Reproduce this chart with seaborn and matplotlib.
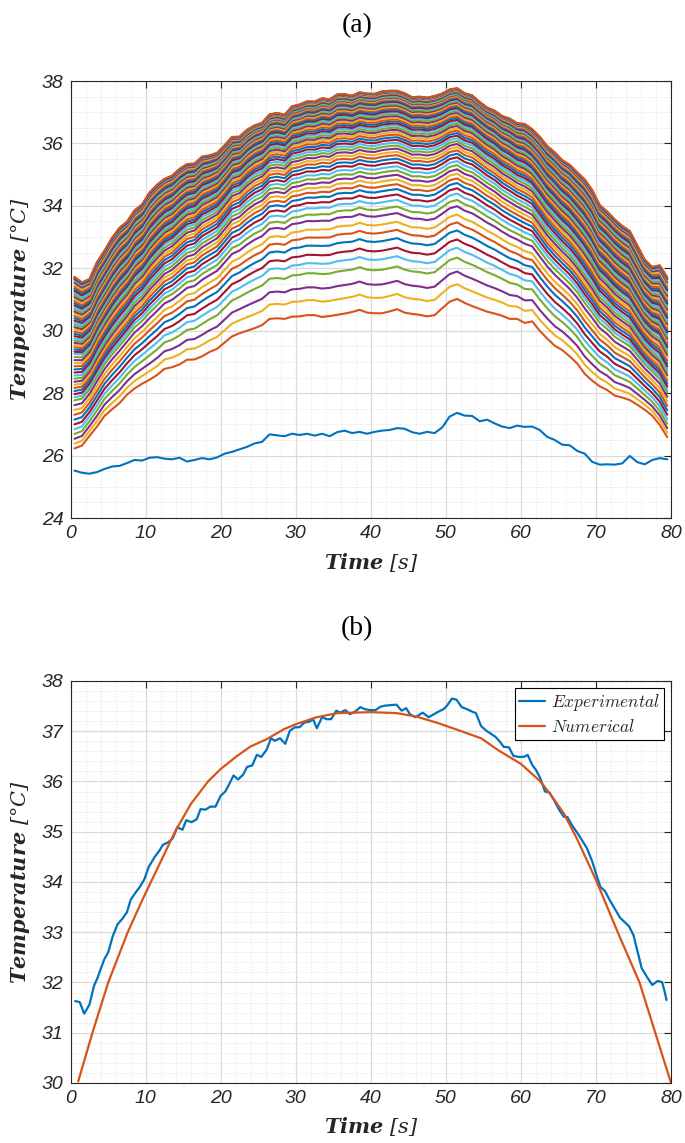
import numpy as np
import pandas as pd
import matplotlib
matplotlib.use("Agg")
import matplotlib.pyplot as plt
import seaborn as sns
from matplotlib.ticker import MultipleLocator
from matplotlib.font_manager import FontProperties
from matplotlib.mathtext import MathTextParser

# ---------------- data: panel (a) ----------------
time_a = np.arange(0.5, 80.0, 1.0)

top_a = [31.73, 31.55, 31.66, 32.20, 32.57, 32.98, 33.30, 33.50, 33.86, 34.05,
         34.43, 34.68, 34.87, 34.97, 35.19, 35.34, 35.36, 35.58, 35.62, 35.70,
         35.94, 36.21, 36.22, 36.44, 36.58, 36.66, 36.93, 36.98, 36.92, 37.19,
         37.25, 37.35, 37.34, 37.45, 37.41, 37.57, 37.58, 37.53, 37.64, 37.60,
         37.59, 37.67, 37.69, 37.69, 37.61, 37.48, 37.50, 37.47, 37.52, 37.60,
         37.73, 37.77, 37.61, 37.54, 37.33, 37.15, 37.05, 36.88, 36.80, 36.65,
         36.63, 36.46, 36.22, 35.92, 35.72, 35.47, 35.32, 35.08, 34.85, 34.51,
         34.03, 33.82, 33.57, 33.36, 33.20, 32.74, 32.28, 32.05, 32.10, 31.72]

low_a = [26.23, 26.32, 26.63, 26.93, 27.27, 27.48, 27.68, 27.95, 28.15, 28.30,
         28.43, 28.58, 28.78, 28.83, 28.92, 29.07, 29.08, 29.18, 29.32, 29.42,
         29.62, 29.82, 29.92, 30.00, 30.08, 30.18, 30.38, 30.40, 30.38, 30.45,
         30.46, 30.50, 30.50, 30.44, 30.47, 30.51, 30.55, 30.60, 30.67, 30.58,
         30.56, 30.56, 30.62, 30.69, 30.58, 30.54, 30.51, 30.46, 30.50, 30.72,
         30.93, 31.02, 30.89, 30.79, 30.70, 30.61, 30.55, 30.48, 30.38, 30.38,
         30.25, 30.30, 30.00, 29.75, 29.52, 29.38, 29.18, 28.95, 28.62, 28.40,
         28.22, 28.10, 27.92, 27.86, 27.78, 27.63, 27.47, 27.28, 26.98, 26.59]

bottom_a = [25.52, 25.45, 25.42, 25.47, 25.57, 25.65, 25.67, 25.76, 25.86, 25.84,
            25.93, 25.95, 25.90, 25.88, 25.93, 25.81, 25.86, 25.92, 25.88, 25.94,
            26.06, 26.12, 26.20, 26.28, 26.39, 26.44, 26.68, 26.65, 26.62, 26.70,
            26.66, 26.70, 26.64, 26.70, 26.62, 26.75, 26.80, 26.72, 26.76, 26.70,
            26.76, 26.80, 26.82, 26.88, 26.86, 26.75, 26.70, 26.76, 26.72, 26.90,
            27.25, 27.37, 27.28, 27.27, 27.10, 27.15, 27.03, 26.93, 26.88, 26.96,
            26.92, 26.93, 26.82, 26.60, 26.50, 26.35, 26.33, 26.15, 26.06, 25.80,
            25.71, 25.72, 25.71, 25.75, 25.99, 25.79, 25.72, 25.86, 25.92, 25.88]

# relative position of each bundle line between lowest (0) and top (1) curve,
# read near the ends of the record (t~0 and t~80) and in the middle (t~25-55)
frac_edge = [0.000, 0.028, 0.056, 0.084, 0.112, 0.140, 0.168, 0.196, 0.224, 0.252, 0.280,
             0.298, 0.316, 0.334, 0.352, 0.370, 0.388, 0.406, 0.424, 0.442, 0.460,
             0.478, 0.496, 0.514, 0.532, 0.550,
             0.563, 0.576, 0.589, 0.602, 0.615, 0.628, 0.641, 0.654, 0.667, 0.680,
             0.693, 0.706, 0.719, 0.732, 0.745, 0.758, 0.771, 0.784, 0.797, 0.810,
             0.822, 0.834, 0.846, 0.858, 0.870, 0.882, 0.894, 0.906, 0.918, 0.930,
             0.942, 0.954, 0.966, 0.978, 0.984, 0.989, 0.994, 1.000]
frac_mid = [0.0, 0.07, 0.13, 0.196, 0.243, 0.282, 0.325, 0.363, 0.40, 0.44,
            0.47, 0.50, 0.525, 0.55, 0.572, 0.594, 0.615, 0.635, 0.654, 0.672,
            0.689, 0.705, 0.72, 0.735, 0.749, 0.762, 0.775, 0.787, 0.799, 0.81,
            0.821, 0.831, 0.841, 0.85, 0.859, 0.868, 0.876, 0.884, 0.892, 0.899,
            0.906, 0.913, 0.92, 0.926, 0.932, 0.938, 0.944, 0.949, 0.954, 0.959,
            0.964, 0.968, 0.972, 0.976, 0.98, 0.983, 0.986, 0.989, 0.992, 0.995,
            0.996, 0.998, 0.999, 1.0]
frac_anchor_time = [0.5, 25.0, 55.0, 79.5]

# ---------------- data: panel (b) ----------------
exp_time = [0.6, 1.2, 1.8, 2.5, 3.1, 3.6, 4.0, 4.5, 5.0, 5.6,
            6.25, 6.9, 7.5, 8.0, 8.7, 9.2, 9.8, 10.4, 11.2, 11.8,
            12.3, 13.0, 13.6, 14.2, 14.9, 15.4, 16.1, 16.8, 17.3, 18.0,
            18.6, 19.3, 20.0, 20.6, 21.1, 21.7, 22.3, 23.0, 23.5, 24.2,
            24.8, 25.4, 26.1, 26.7, 27.2, 27.9, 28.6, 29.2, 29.9, 30.5,
            31.1, 31.8, 32.3, 32.8, 33.5, 34.1, 34.7, 35.4, 35.9, 36.6,
            37.2, 37.9, 38.6, 39.2, 39.9, 40.6, 41.3, 41.9, 42.6, 43.4,
            44.1, 44.7, 45.2, 45.9, 46.4, 46.9, 47.7, 48.4, 49.0, 49.7,
            50.2, 50.8, 51.4, 52.1, 52.8, 53.5, 54.0, 54.7, 55.4, 56.0,
            56.6, 57.2, 57.7, 58.4, 59.0, 59.7, 60.4, 60.9, 61.5, 62.0,
            62.6, 63.2, 63.8, 64.4, 65.0, 65.7, 66.2, 66.8, 67.5, 68.1,
            68.8, 69.5, 70.1, 70.6, 71.2, 71.9, 72.5, 73.2, 73.7, 74.4,
            75.0, 75.5, 76.1, 76.8, 77.5, 78.2, 78.8, 79.1, 79.4]
exp_temp = [31.63, 31.61, 31.38, 31.56, 31.93, 32.10, 32.27, 32.47, 32.60, 32.92,
            33.16, 33.27, 33.40, 33.65, 33.80, 33.90, 34.05, 34.30, 34.50, 34.62,
            34.74, 34.79, 34.87, 35.09, 35.04, 35.23, 35.19, 35.25, 35.45, 35.44,
            35.50, 35.50, 35.72, 35.80, 35.94, 36.12, 36.04, 36.14, 36.29, 36.32,
            36.53, 36.49, 36.63, 36.86, 36.81, 36.86, 36.75, 37.01, 37.08, 37.08,
            37.17, 37.19, 37.24, 37.06, 37.28, 37.24, 37.24, 37.41, 37.37, 37.42,
            37.34, 37.39, 37.48, 37.44, 37.42, 37.42, 37.49, 37.51, 37.52, 37.53,
            37.41, 37.46, 37.34, 37.28, 37.32, 37.37, 37.28, 37.34, 37.39, 37.44,
            37.52, 37.65, 37.63, 37.48, 37.44, 37.39, 37.36, 37.10, 37.01, 36.95,
            36.89, 36.79, 36.69, 36.68, 36.51, 36.49, 36.49, 36.53, 36.33, 36.23,
            36.06, 35.80, 35.78, 35.63, 35.46, 35.30, 35.29, 35.13, 34.98, 34.84,
            34.67, 34.41, 34.12, 33.90, 33.82, 33.62, 33.47, 33.29, 33.22, 33.12,
            32.94, 32.64, 32.28, 32.11, 31.95, 32.03, 32.01, 31.85, 31.65]

num_time = [1.0, 2.9, 5.0, 7.6, 9.6, 10.85, 13.9, 16.0, 18.3, 20.0, 22.1, 24.0,
            26.1, 28.4, 30.0, 32.8, 35.5, 40.0, 43.5, 46.1, 48.8, 51.5, 54.7,
            57.0, 60.0, 62.6, 63.9, 65.7, 67.5, 70.0, 72.9, 75.8, 77.9, 80.0]
num_temp = [30.03, 31.0, 32.0, 33.0, 33.66, 34.05, 35.0, 35.55, 36.0, 36.25, 36.5, 36.70,
            36.84, 37.04, 37.14, 37.28, 37.36, 37.38, 37.36, 37.29, 37.17, 37.03, 36.86,
            36.62, 36.35, 36.0, 35.75, 35.37, 34.85, 34.04, 33.0, 32.0, 31.0, 30.0]

series_names = ["Experimental", "Numerical"]

# ---------------- style ----------------
sns.set_theme(style="white")
plt.rcParams["font.family"] = ["Liberation Sans", "DejaVu Sans"]
plt.rcParams["font.style"] = "italic"
plt.rcParams["mathtext.fontset"] = "cm"

MATLAB = ["#0072BD", "#D95319", "#EDB120", "#7E2F8E", "#77AC30", "#4DBEEE", "#A2142F"]
TXT = "#262626"
LABEL_MATH = "dejavuserif"


def axis_label(word, unit):
    s = r"$\mathbfit{%s}\ [%s]$" % (word, unit)
    try:
        MathTextParser("path").parse(s, 72, FontProperties(math_fontfamily=LABEL_MATH))
        return s
    except Exception:
        return r"$\mathbf{%s}\ [%s]$" % (word, unit)


fig = plt.figure(figsize=(6.85, 11.43), dpi=100)
ax1 = fig.add_axes([0.1032, 0.5468, 0.8764, 0.3823])
ax2 = fig.add_axes([0.1032, 0.0525, 0.8764, 0.3517])

# ---------------- panel (a) ----------------
top = np.array(top_a)
low = np.array(low_a)
curves = [np.array(bottom_a)]
for fe, fm in zip(frac_edge, frac_mid):
    g = np.interp(time_a, frac_anchor_time, [fe, fm, fm, fe])
    curves.append(low + g * (top - low))
frames = []
for i, c in enumerate(curves):
    frames.append(pd.DataFrame({"time": time_a, "temp": c, "line": f"L{i:03d}"}))
dfa = pd.concat(frames, ignore_index=True)
order = [f"L{i:03d}" for i in range(len(curves))]
pal = [MATLAB[i % 7] for i in range(len(curves))]
sns.lineplot(data=dfa, x="time", y="temp", hue="line", hue_order=order, palette=pal,
             legend=False, linewidth=1.5, estimator=None, sort=False, ax=ax1)

# ---------------- panel (b) ----------------
dfb = pd.concat([
    pd.DataFrame({"time": exp_time, "temp": exp_temp, "series": series_names[0]}),
    pd.DataFrame({"time": num_time, "temp": num_temp, "series": series_names[1]}),
], ignore_index=True)
sns.lineplot(data=dfb, x="time", y="temp", hue="series", hue_order=series_names,
             palette=MATLAB[:2], legend=False, linewidth=1.6, estimator=None,
             sort=False, ax=ax2)
leg = ax2.legend(ax2.get_lines()[:2], [r"$%s$" % n for n in series_names],
                 loc="upper right", fontsize=12.5, frameon=True, fancybox=False,
                 edgecolor="black", framealpha=1, borderaxespad=0.4,
                 handlelength=1.5, handletextpad=0.3, borderpad=0.25, labelspacing=0.3)
leg.get_frame().set_linewidth(0.8)

# ---------------- axes formatting ----------------
for ax, ylim, ymaj, ymin in [(ax1, (24, 38), 2, 0.5), (ax2, (30, 38), 1, 0.2)]:
    ax.set_xlim(0, 80)
    ax.set_ylim(*ylim)
    ax.xaxis.set_major_locator(MultipleLocator(10))
    ax.xaxis.set_minor_locator(MultipleLocator(2))
    ax.yaxis.set_major_locator(MultipleLocator(ymaj))
    ax.yaxis.set_minor_locator(MultipleLocator(ymin))
    ax.set_axisbelow(True)
    ax.grid(which="major", color="#DADADA", linewidth=0.9)
    ax.grid(which="minor", color="#E2E2E2", linewidth=0.7, linestyle=":")
    ax.tick_params(which="major", direction="in", length=5, width=0.8, top=True,
                   right=True, labelsize=14, colors=TXT, pad=5)
    ax.tick_params(which="minor", length=0)
    for sp in ax.spines.values():
        sp.set_visible(True)
        sp.set_color(TXT)
        sp.set_linewidth(0.8)
    ax.set_xlabel(axis_label("Time", "s"), fontsize=15, math_fontfamily=LABEL_MATH, color=TXT)
    ax.set_ylabel(axis_label("Temperature", "°C"), fontsize=15,
                  math_fontfamily=LABEL_MATH, color=TXT)

ax1.xaxis.set_label_coords(0.5, -0.075)
ax1.yaxis.set_label_coords(-0.064, 0.5)
ax2.xaxis.set_label_coords(0.5, -0.080)
ax2.yaxis.set_label_coords(-0.064, 0.5)

fig.text(357 / 685, 1 - 26 / 1143, "(a)", ha="center", va="center", fontsize=20,
         family="Liberation Serif", style="normal", color="black")
fig.text(357 / 685, 1 - 629 / 1143, "(b)", ha="center", va="center", fontsize=20,
         family="Liberation Serif", style="normal", color="black")

fig.savefig("out.png", dpi=100)
